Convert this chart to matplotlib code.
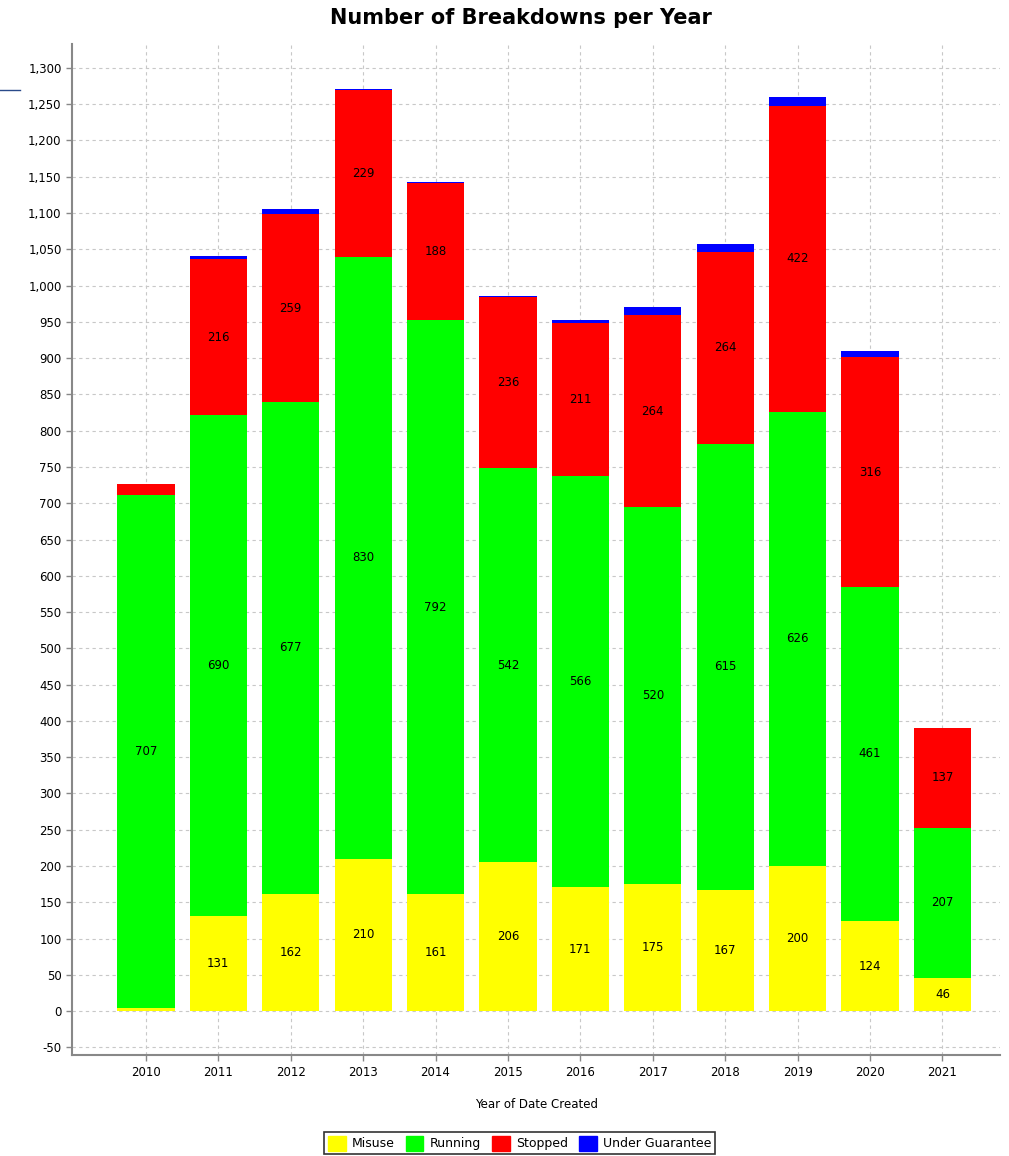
import matplotlib.pyplot as plt
import numpy as np
from matplotlib.lines import Line2D

plt.rcParams['font.family'] = ['DejaVu Sans']

years = ["2010", "2011", "2012", "2013", "2014", "2015", "2016", "2017", "2018", "2019", "2020", "2021"]
misuse = [5, 131, 162, 210, 161, 206, 171, 175, 167, 200, 124, 46]
running = [707, 690, 677, 830, 792, 542, 566, 520, 615, 626, 461, 207]
stopped = [15, 216, 259, 229, 188, 236, 211, 264, 264, 422, 316, 137]
guarantee = [0, 4, 7, 2, 2, 2, 5, 11, 11, 12, 9, 0]

series = [("Misuse", misuse, "#ffff00"),
          ("Running", running, "#00ff00"),
          ("Stopped", stopped, "#ff0000"),
          ("Under Guarantee", guarantee, "#0000ff")]

fig = plt.figure(figsize=(10.09, 11.56), dpi=100)
ax = fig.add_axes([0.0714, 0.087, 0.92, 0.875])

x = np.arange(len(years))
bottom = np.zeros(len(years))
handles = []
for name, vals, col in series:
    vals = np.array(vals, dtype=float)
    ax.bar(x, vals, 0.79, bottom=bottom, color=col, zorder=2)
    for xi, b, v in zip(x, bottom, vals):
        if v >= 40:
            ax.text(xi, b + v / 2, f"{int(v)}", ha="center", va="center", fontsize=8.5, zorder=3)
    bottom += vals
    handles.append(plt.Rectangle((0, 0), 1, 1, color=col))

ax.set_xlim(-1.02, 11.8)
ax.set_ylim(-61, 1333)
ax.set_xticks(x)
ax.set_xticklabels(years)
ax.set_yticks(np.arange(-50, 1301, 50))
ax.yaxis.set_major_formatter(plt.FuncFormatter(lambda v, p: f"{int(v):,}"))
ax.tick_params(labelsize=8.5, color="#888888", length=4, width=1)
ax.grid(True, color="#c8c8c8", linestyle=(0, (3, 3)), linewidth=0.8, zorder=0)
ax.set_axisbelow(True)
for s in ["top", "right"]:
    ax.spines[s].set_visible(False)
for s in ["left", "bottom"]:
    ax.spines[s].set_color("#888888")
    ax.spines[s].set_linewidth(1.5)

fig.suptitle("Number of Breakdowns per Year", x=0.516, y=0.993, va="top",
             fontsize=15, fontweight="bold")
ax.set_xlabel("Year of Date Created", fontsize=8.5, labelpad=14)

leg = fig.legend(handles, [s[0] for s in series], loc="center", bbox_to_anchor=(0.515, 0.011),
                 ncol=4, fontsize=9, frameon=True, fancybox=False, edgecolor="black",
                 handlelength=1.4, handleheight=1.4, handletextpad=0.5, columnspacing=0.9,
                 borderpad=0.3)
leg.get_frame().set_linewidth(1.2)

fig.add_artist(Line2D([0.0, 0.02], [0.922, 0.922], color="#2a4a8a", linewidth=1))

fig.savefig("out.png", dpi=100)
